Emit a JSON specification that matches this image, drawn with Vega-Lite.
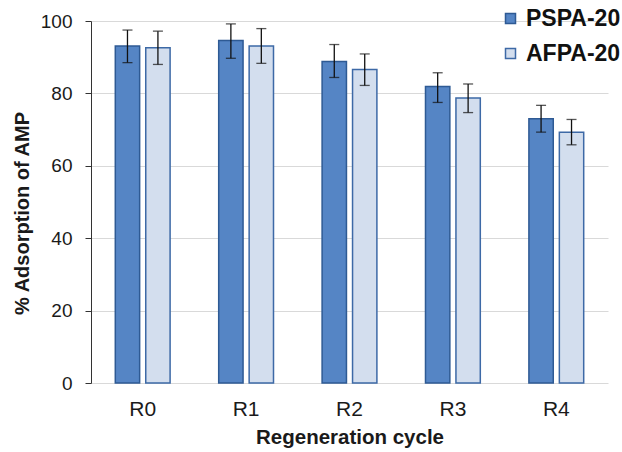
{
  "$schema": "https://vega.github.io/schema/vega-lite/v6.json",
  "width": 517,
  "height": 362,
  "autosize": {"type": "none"},
  "padding": {"left": 91, "top": 21, "right": 14, "bottom": 69},
  "background": "white",
  "config": {
    "view": {"stroke": null},
    "font": "Liberation Sans"
  },
  "data": {
    "values": [
      {"cycle": "R0", "material": "PSPA-20", "value": 93.1, "lo": 88.5, "hi": 97.5},
      {"cycle": "R0", "material": "AFPA-20", "value": 92.6, "lo": 88.0, "hi": 97.2},
      {"cycle": "R1", "material": "PSPA-20", "value": 94.6, "lo": 89.7, "hi": 99.2},
      {"cycle": "R1", "material": "AFPA-20", "value": 93.1, "lo": 88.3, "hi": 97.9},
      {"cycle": "R2", "material": "PSPA-20", "value": 88.8, "lo": 84.4, "hi": 93.5},
      {"cycle": "R2", "material": "AFPA-20", "value": 86.6, "lo": 82.2, "hi": 90.9},
      {"cycle": "R3", "material": "PSPA-20", "value": 81.9, "lo": 77.5, "hi": 85.7},
      {"cycle": "R3", "material": "AFPA-20", "value": 78.7, "lo": 74.7, "hi": 82.6},
      {"cycle": "R4", "material": "PSPA-20", "value": 73.0, "lo": 69.3, "hi": 76.7},
      {"cycle": "R4", "material": "AFPA-20", "value": 69.3, "lo": 65.8, "hi": 72.8}
    ]
  },
  "encoding": {
    "x": {
      "field": "cycle",
      "type": "nominal",
      "sort": null,
      "scale": {"paddingInner": 0.47, "paddingOuter": 0.235},
      "axis": {
        "title": "Regeneration cycle",
        "titleFontSize": 20.5,
        "titleFontWeight": "bold",
        "titleColor": "#1a1a1a",
        "titlePadding": 8,
        "labelAngle": 0,
        "labelFontSize": 21,
        "labelColor": "#1a1a1a",
        "labelPadding": 15,
        "ticks": false,
        "domain": false
      }
    },
    "xOffset": {
      "field": "material",
      "type": "nominal",
      "sort": ["PSPA-20", "AFPA-20"],
      "scale": {"paddingInner": 0.2}
    }
  },
  "layer": [
    {
      "mark": {"type": "bar", "strokeWidth": 1.5},
      "encoding": {
        "y": {
          "field": "value",
          "type": "quantitative",
          "title": "% Adsorption of AMP",
          "scale": {"domain": [0, 100], "nice": false},
          "axis": {
            "title": "% Adsorption of AMP",
            "titleFontSize": 20,
            "titleFontWeight": "bold",
            "titleColor": "#1a1a1a",
            "titlePadding": 8,
            "titleY": 192,
            "values": [0, 10, 20, 30, 40, 50, 60, 70, 80, 90, 100],
            "labelExpr": "datum.value % 20 === 0 ? datum.label : ''",
            "labelFontSize": 19,
            "labelColor": "#1a1a1a",
            "labelPadding": 13,
            "tickSize": 6,
            "tickColor": "#333333",
            "domainColor": "#333333",
            "grid": true,
            "gridColor": {"condition": {"test": "datum.value % 20 !== 0", "value": "transparent"}, "value": "#d9d9d9"},
            "gridWidth": 1
          }
        },
        "fill": {
          "field": "material",
          "type": "nominal",
          "scale": {"domain": ["PSPA-20", "AFPA-20"], "range": ["#5585c5", "#d3deee"]},
          "legend": {
            "title": null,
            "orient": "none",
            "legendX": 408,
            "legendY": -14,
            "symbolType": "square",
            "symbolSize": 100,
            "symbolStrokeWidth": 1.5,
            "labelFontSize": 23,
            "labelFontWeight": "bold",
            "labelColor": "#111111",
            "labelOffset": 4,
            "rowPadding": 11
          }
        },
        "stroke": {
          "field": "material",
          "type": "nominal",
          "scale": {"domain": ["PSPA-20", "AFPA-20"], "range": ["#2e5a94", "#3d69a6"]},
          "legend": null
        }
      }
    },
    {
      "mark": {"type": "rule", "color": "#111111", "strokeWidth": 1.3},
      "encoding": {
        "y": {"field": "lo", "type": "quantitative", "title": "% Adsorption of AMP"},
        "y2": {"field": "hi"}
      }
    },
    {
      "mark": {"type": "tick", "color": "#111111", "thickness": 1.3, "size": 10},
      "encoding": {
        "y": {"field": "lo", "type": "quantitative", "title": "% Adsorption of AMP"}
      }
    },
    {
      "mark": {"type": "tick", "color": "#111111", "thickness": 1.3, "size": 10},
      "encoding": {
        "y": {"field": "hi", "type": "quantitative", "title": "% Adsorption of AMP"}
      }
    }
  ]
}
